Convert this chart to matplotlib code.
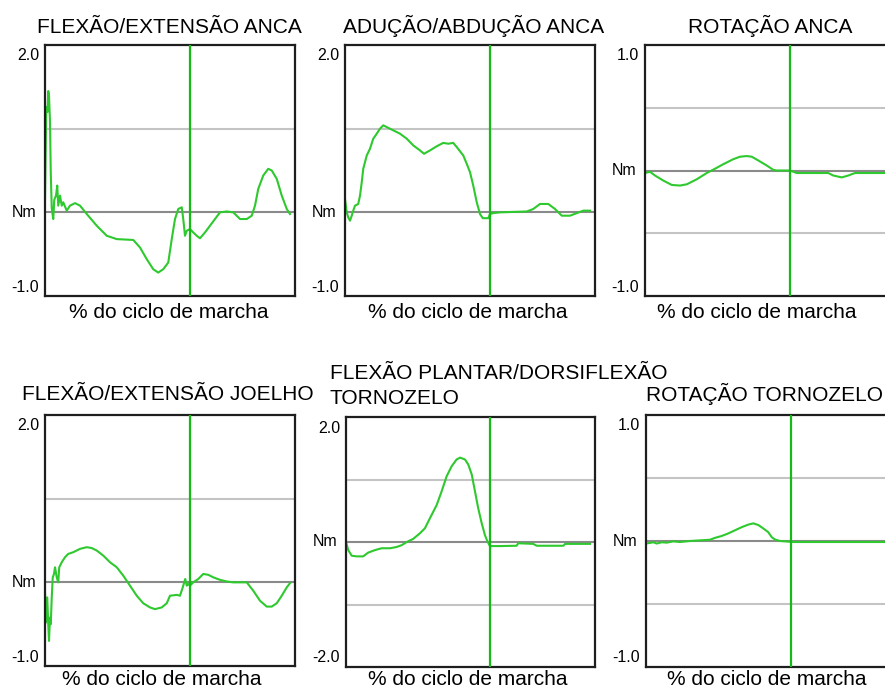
import matplotlib
matplotlib.use("Agg")
import matplotlib.pyplot as plt
import matplotlib.transforms as mtransforms

plt.rcParams["font.family"] = ["Liberation Sans", "DejaVu Sans"]

# ---------------------------------------------------------------- data
xlabel_text = "% do ciclo de marcha"
toe_off_pct = 58.0

hip_flex_x = [0.0, 0.5, 1.0, 1.3, 1.6, 2.0, 2.3, 2.7, 3.3, 3.7, 4.4, 4.9, 5.3, 6.0,
              6.7, 7.3, 8.7, 10.0, 12.0, 14.0, 16.7, 20.7, 24.7, 28.7, 35.3, 38.0,
              40.7, 43.3, 45.3, 47.3, 49.3, 50.7, 52.0, 53.3, 54.7, 55.3, 56.0, 56.7,
              58.0, 59.3, 60.7, 62.0, 64.0, 66.0, 68.0, 70.0, 72.7, 75.3, 78.0, 80.7,
              82.7, 84.0, 85.3, 87.3, 89.3, 90.7, 92.7, 94.7, 96.7, 98.0]
hip_flex_y = [0.16, 1.26, 1.2, 1.45, 1.4, 1.08, 0.48, 0.05, -0.08, 0.15, 0.2, 0.32, 0.08,
              0.2, 0.08, 0.12, 0.02, 0.08, 0.11, 0.08, -0.02, -0.16, -0.28, -0.32, -0.33,
              -0.42, -0.56, -0.68, -0.72, -0.68, -0.6, -0.32, -0.08, 0.04, 0.06, -0.08,
              -0.28, -0.22, -0.2, -0.24, -0.28, -0.31, -0.24, -0.16, -0.08, 0.0, 0.01,
              0.0, -0.08, -0.08, -0.04, 0.08, 0.28, 0.44, 0.52, 0.5, 0.4, 0.2, 0.04, -0.02]

hip_abd_x = [0.0, 0.7, 1.3, 2.0, 2.7, 3.3, 4.0, 5.3, 6.0, 6.7, 7.3, 8.0, 8.7, 10.0,
             11.3, 12.7, 14.0, 15.3, 17.3, 19.3, 22.0, 24.7, 27.3, 30.0, 31.6, 34.0,
             36.7, 39.3, 41.3, 43.3, 44.7, 47.3, 48.7, 50.0, 51.3, 52.7, 54.0, 55.1,
             57.3, 58.0, 59.3, 62.0, 72.7, 75.3, 78.0, 81.3, 84.0, 86.7, 90.0, 92.7,
             95.3, 98.0]
hip_abd_y = [0.16, 0.0, -0.06, -0.1, -0.04, 0.02, 0.08, 0.1, 0.2, 0.36, 0.52, 0.6, 0.68,
             0.76, 0.88, 0.94, 1.0, 1.04, 1.01, 0.98, 0.94, 0.88, 0.8, 0.74, 0.7, 0.74,
             0.79, 0.83, 0.82, 0.83, 0.78, 0.68, 0.58, 0.48, 0.32, 0.12, -0.02, -0.07,
             -0.07, -0.02, -0.01, 0.0, 0.01, 0.04, 0.1, 0.1, 0.04, -0.04, -0.04, -0.01,
             0.02, 0.02]

hip_rot_x = [0.0, 2.0, 4.0, 7.3, 10.7, 14.0, 16.7, 20.7, 24.7, 28.0, 31.3, 35.3, 38.0,
             40.7, 42.7, 45.3, 48.7, 51.3, 52.7, 58.0, 60.7, 64.7, 73.3, 75.3, 78.7,
             81.3, 84.0, 88.7, 100.0]
hip_rot_y = [-0.02, -0.01, -0.04, -0.08, -0.115, -0.12, -0.11, -0.07, -0.02, 0.014, 0.05,
             0.09, 0.11, 0.115, 0.11, 0.08, 0.04, 0.005, 0.0, 0.0, -0.02, -0.02, -0.02,
             -0.04, -0.055, -0.04, -0.02, -0.02, -0.02]

knee_x = [0.0, 0.4, 0.9, 1.3, 1.6, 2.0, 2.3, 2.7, 3.1, 3.6, 4.0, 4.7, 5.3, 5.7, 6.7,
          8.0, 9.3, 11.3, 14.0, 16.7, 18.7, 20.7, 23.3, 26.0, 28.7, 31.3, 34.0, 36.7,
          39.3, 42.0, 44.0, 46.7, 48.7, 50.0, 52.7, 54.0, 55.1, 56.1, 56.7, 57.3,
          58.0, 59.3, 61.3, 63.3, 65.3, 67.3, 70.0, 72.7, 75.3, 80.7, 83.3, 86.0,
          88.7, 90.7, 92.7, 94.7, 96.7, 98.0]
knee_y = [-0.12, -0.48, -0.18, -0.5, -0.7, -0.42, -0.5, -0.18, 0.06, 0.1, 0.18, 0.06,
          0.0, 0.18, 0.24, 0.3, 0.34, 0.36, 0.4, 0.42, 0.41, 0.38, 0.32, 0.24, 0.18,
          0.08, -0.04, -0.16, -0.25, -0.3, -0.32, -0.3, -0.25, -0.16, -0.15, -0.16,
          -0.06, 0.04, -0.04, -0.02, -0.04, 0.0, 0.04, 0.1, 0.09, 0.06, 0.03, 0.01,
          0.0, 0.0, -0.1, -0.22, -0.29, -0.29, -0.25, -0.16, -0.06, -0.01]

ankle_pf_x = [0.0, 0.9, 2.3, 4.3, 6.9, 8.9, 11.6, 14.3, 17.7, 20.3, 22.4, 24.4, 27.0,
              29.7, 31.7, 33.7, 36.4, 38.4, 40.4, 42.4, 44.4, 45.8, 47.8, 49.1, 50.5,
              51.8, 53.1, 54.5, 55.8, 56.8, 57.8, 62.0, 68.5, 69.2, 75.2, 76.6, 87.3,
              88.0, 98.0]
ankle_pf_y = [0.0, -0.13, -0.22, -0.23, -0.23, -0.17, -0.13, -0.1, -0.1, -0.08, -0.05,
              0.0, 0.05, 0.14, 0.22, 0.38, 0.59, 0.81, 1.05, 1.21, 1.32, 1.35, 1.32,
              1.24, 1.08, 0.81, 0.54, 0.3, 0.11, 0.01, -0.065, -0.065, -0.06, -0.02,
              -0.03, -0.06, -0.06, -0.03, -0.03]

ankle_rot_x = [0.0, 1.6, 2.9, 4.3, 6.3, 8.3, 10.9, 13.6, 17.6, 21.6, 25.6, 27.6, 30.3,
               32.9, 35.6, 38.3, 40.9, 42.9, 44.9, 46.9, 48.9, 50.3, 51.6, 53.6, 58.9,
               100.0]
ankle_rot_y = [-0.02, -0.015, -0.01, -0.02, -0.01, -0.013, -0.003, -0.008, 0.0, 0.005,
               0.01, 0.025, 0.04, 0.06, 0.085, 0.11, 0.13, 0.14, 0.127, 0.1, 0.07, 0.03,
               0.012, 0.0, -0.008, -0.008]

# ---------------------------------------------------------------- layout
W, H, DPI = 885, 691, 100
fig = plt.figure(figsize=(W / DPI, H / DPI), dpi=DPI)
fig.patch.set_facecolor("white")

CURVE = "#2ec92e"
MARKER = "#14bb14"
FRAME = "#1e1e1e"
GRID_LIGHT = "#c4c4c4"
GRID_ZERO = "#8a8a8a"
TICK_FS = 11.5
TEXT_FS = 15

panels = [
    # box (left, top, right, bottom) in px, y limits, tick labels, gray levels, data
    dict(box=(45, 45, 295, 296), ylim=(-1.0, 2.0), top="2.0", bot="-1.0",
         grid=[1.0], x=hip_flex_x, y=hip_flex_y),
    dict(box=(345, 45, 595, 296), ylim=(-1.0, 2.0), top="2.0", bot="-1.0",
         grid=[1.0], x=hip_abd_x, y=hip_abd_y),
    dict(box=(645, 45, 895, 296), ylim=(-1.0, 1.0), top="1.0", bot="-1.0",
         grid=[0.5, -0.5], x=hip_rot_x, y=hip_rot_y),
    dict(box=(45, 415, 295, 666), ylim=(-1.0, 2.0), top="2.0", bot="-1.0",
         grid=[1.0], x=knee_x, y=knee_y),
    dict(box=(346, 417, 595, 667), ylim=(-2.0, 2.0), top="2.0", bot="-2.0",
         grid=[1.0, -1.0], x=ankle_pf_x, y=ankle_pf_y),
    dict(box=(646, 415, 896, 667), ylim=(-1.0, 1.0), top="1.0", bot="-1.0",
         grid=[0.5, -0.5], x=ankle_rot_x, y=ankle_rot_y),
]

for p in panels:
    l, t, r, b = p["box"]
    ax = fig.add_axes([l / W, 1 - b / H, (r - l) / W, (b - t) / H])
    ax.set_xlim(0, 100)
    ax.set_ylim(*p["ylim"])
    ax.set_xticks([])
    ax.set_yticks([])
    for s in ax.spines.values():
        s.set_color(FRAME)
        s.set_linewidth(1.6)
    for g in p["grid"]:
        ax.axhline(g, color=GRID_LIGHT, lw=1.5, zorder=1)
    ax.axhline(0.0, color=GRID_ZERO, lw=1.5, zorder=1)
    ax.axvline(toe_off_pct, color=MARKER, lw=1.6, zorder=3)
    ax.plot(p["x"], p["y"], color=CURVE, lw=1.5, zorder=2)

    ytr = ax.get_yaxis_transform()
    ax.text(0, p["ylim"][1], p["top"], fontsize=TICK_FS, ha="right", va="center",
            transform=mtransforms.offset_copy(ytr, fig=fig, x=-6, y=-11, units="dots"))
    ax.text(0, 0.0, "Nm", fontsize=TICK_FS, ha="right", va="center",
            transform=mtransforms.offset_copy(ytr, fig=fig, x=-9, y=0, units="dots"))
    ax.text(0, p["ylim"][0], p["bot"], fontsize=TICK_FS, ha="right", va="center",
            transform=mtransforms.offset_copy(ytr, fig=fig, x=-6, y=9, units="dots"))


def fig_text(x, y, s, **kw):
    fig.text(x / W, 1 - y / H, s, **kw)


titles = [
    (169, 33, "FLEXÃO/EXTENSÃO ANCA", "center"),
    (474, 33, "ADUÇÃO/ABDUÇÃO ANCA", "center"),
    (770, 33, "ROTAÇÃO ANCA", "center"),
    (168, 400, "FLEXÃO/EXTENSÃO JOELHO", "center"),
    (330, 379, "FLEXÃO PLANTAR/DORSIFLEXÃO", "left"),
    (330, 404, "TORNOZELO", "left"),
    (646, 401, "ROTAÇÃO TORNOZELO", "left"),
]
for x, y, s, ha in titles:
    fig_text(x, y, s, fontsize=TEXT_FS, ha=ha, va="baseline")

for x, y in [(169, 318), (468, 318), (757, 318), (162, 685), (468, 685), (767, 685)]:
    fig_text(x, y, xlabel_text, fontsize=TEXT_FS, ha="center", va="baseline")

fig.savefig("out.png", dpi=DPI)
